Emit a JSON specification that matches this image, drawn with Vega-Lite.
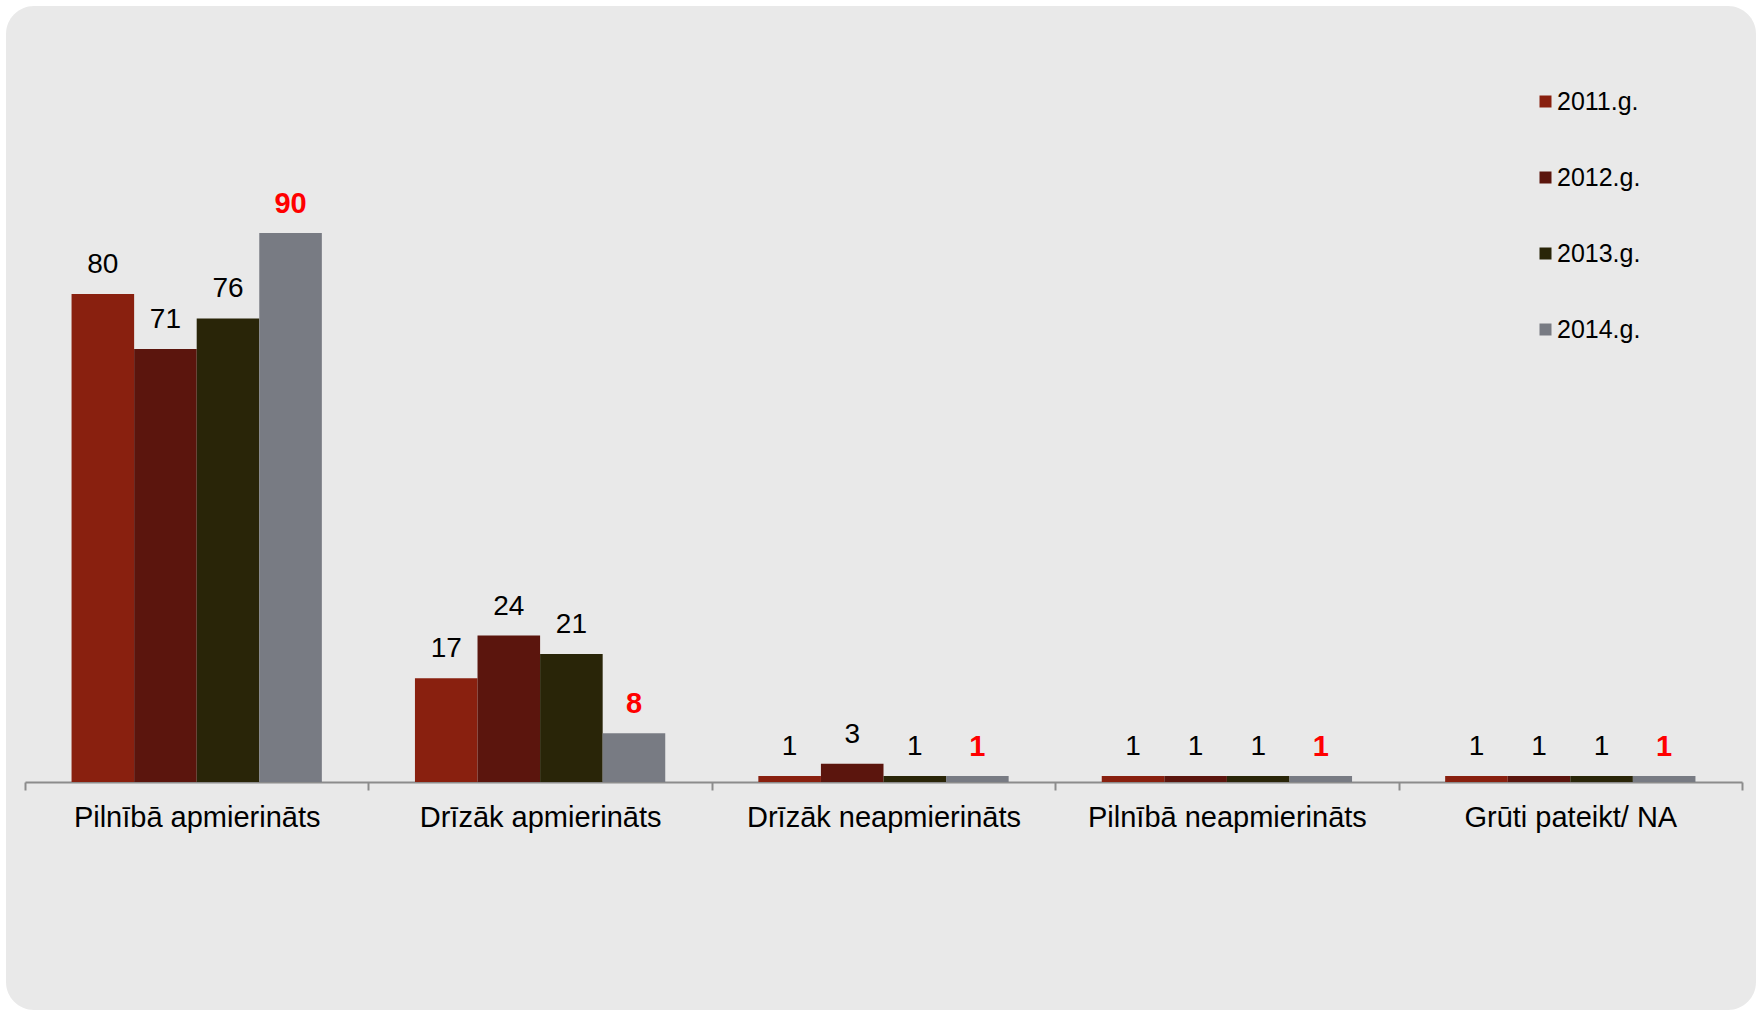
{
  "$schema": "https://vega.github.io/schema/vega-lite/v6.json",
  "width": 1750,
  "height": 1004,
  "autosize": {"type": "none"},
  "padding": {"left": 6, "top": 6, "right": 0, "bottom": 1},
  "background": "#ffffff",
  "config": {
    "view": {"fill": "#e9e9e9", "stroke": null, "cornerRadius": 28},
    "font": "Liberation Sans"
  },
  "data": {
    "values": [
      {"atbilde": "Pilnībā apmierināts", "gads": "2011.g.", "vertiba": 80},
      {"atbilde": "Pilnībā apmierināts", "gads": "2012.g.", "vertiba": 71},
      {"atbilde": "Pilnībā apmierināts", "gads": "2013.g.", "vertiba": 76},
      {"atbilde": "Pilnībā apmierināts", "gads": "2014.g.", "vertiba": 90},
      {"atbilde": "Drīzāk apmierināts", "gads": "2011.g.", "vertiba": 17},
      {"atbilde": "Drīzāk apmierināts", "gads": "2012.g.", "vertiba": 24},
      {"atbilde": "Drīzāk apmierināts", "gads": "2013.g.", "vertiba": 21},
      {"atbilde": "Drīzāk apmierināts", "gads": "2014.g.", "vertiba": 8},
      {"atbilde": "Drīzāk neapmierināts", "gads": "2011.g.", "vertiba": 1},
      {"atbilde": "Drīzāk neapmierināts", "gads": "2012.g.", "vertiba": 3},
      {"atbilde": "Drīzāk neapmierināts", "gads": "2013.g.", "vertiba": 1},
      {"atbilde": "Drīzāk neapmierināts", "gads": "2014.g.", "vertiba": 1},
      {"atbilde": "Pilnībā neapmierināts", "gads": "2011.g.", "vertiba": 1},
      {"atbilde": "Pilnībā neapmierināts", "gads": "2012.g.", "vertiba": 1},
      {"atbilde": "Pilnībā neapmierināts", "gads": "2013.g.", "vertiba": 1},
      {"atbilde": "Pilnībā neapmierināts", "gads": "2014.g.", "vertiba": 1},
      {"atbilde": "Grūti pateikt/ NA", "gads": "2011.g.", "vertiba": 1},
      {"atbilde": "Grūti pateikt/ NA", "gads": "2012.g.", "vertiba": 1},
      {"atbilde": "Grūti pateikt/ NA", "gads": "2013.g.", "vertiba": 1},
      {"atbilde": "Grūti pateikt/ NA", "gads": "2014.g.", "vertiba": 1}
    ]
  },
  "encoding": {
    "x": {
      "field": "atbilde",
      "type": "nominal",
      "sort": ["Pilnībā apmierināts", "Drīzāk apmierināts", "Drīzāk neapmierināts", "Pilnībā neapmierināts", "Grūti pateikt/ NA"],
      "scale": {"range": [19, 1736], "paddingInner": 0, "paddingOuter": 0},
      "axis": {
        "title": null,
        "labelAngle": 0,
        "labelFontSize": 29,
        "labelColor": "#000000",
        "labelFont": "Liberation Sans",
        "labelLimit": 0,
        "labelPadding": 13,
        "domainColor": "#8c8c8c",
        "domainWidth": 2,
        "tickColor": "#8c8c8c",
        "tickWidth": 2,
        "tickSize": 8,
        "tickBand": "extent",
        "grid": false,
        "offset": -228
      }
    },
    "xOffset": {
      "field": "gads",
      "type": "nominal",
      "sort": ["2011.g.", "2012.g.", "2013.g.", "2014.g."],
      "scale": {"paddingInner": 0, "paddingOuter": 0.744}
    },
    "y": {
      "field": "vertiba",
      "type": "quantitative",
      "scale": {"domain": [0, 100], "range": [776, 166], "nice": false},
      "axis": null
    }
  },
  "layer": [
    {
      "mark": {"type": "bar"},
      "encoding": {
        "color": {
          "field": "gads",
          "type": "nominal",
          "scale": {
            "domain": ["2011.g.", "2012.g.", "2013.g.", "2014.g."],
            "range": ["#89200f", "#5b150d", "#292508", "#787b83"]
          },
          "legend": {
            "title": null,
            "orient": "none",
            "legendX": 1527,
            "legendY": 83,
            "symbolType": "square",
            "symbolSize": 144,
            "symbolStrokeWidth": 0,
            "labelFontSize": 25,
            "labelFont": "Liberation Sans",
            "labelColor": "#000000",
            "labelOffset": -1,
            "rowPadding": 50
          }
        }
      }
    },
    {
      "transform": [{"filter": "datum.gads !== '2014.g.'"}],
      "mark": {"type": "text", "dy": -29, "baseline": "middle", "fontSize": 28, "color": "#000000"},
      "encoding": {"text": {"field": "vertiba", "type": "quantitative"}}
    },
    {
      "transform": [{"filter": "datum.gads === '2014.g.'"}],
      "mark": {"type": "text", "dy": -29, "baseline": "middle", "fontSize": 29, "fontWeight": "bold", "color": "#ff0000"},
      "encoding": {"text": {"field": "vertiba", "type": "quantitative"}}
    }
  ]
}
